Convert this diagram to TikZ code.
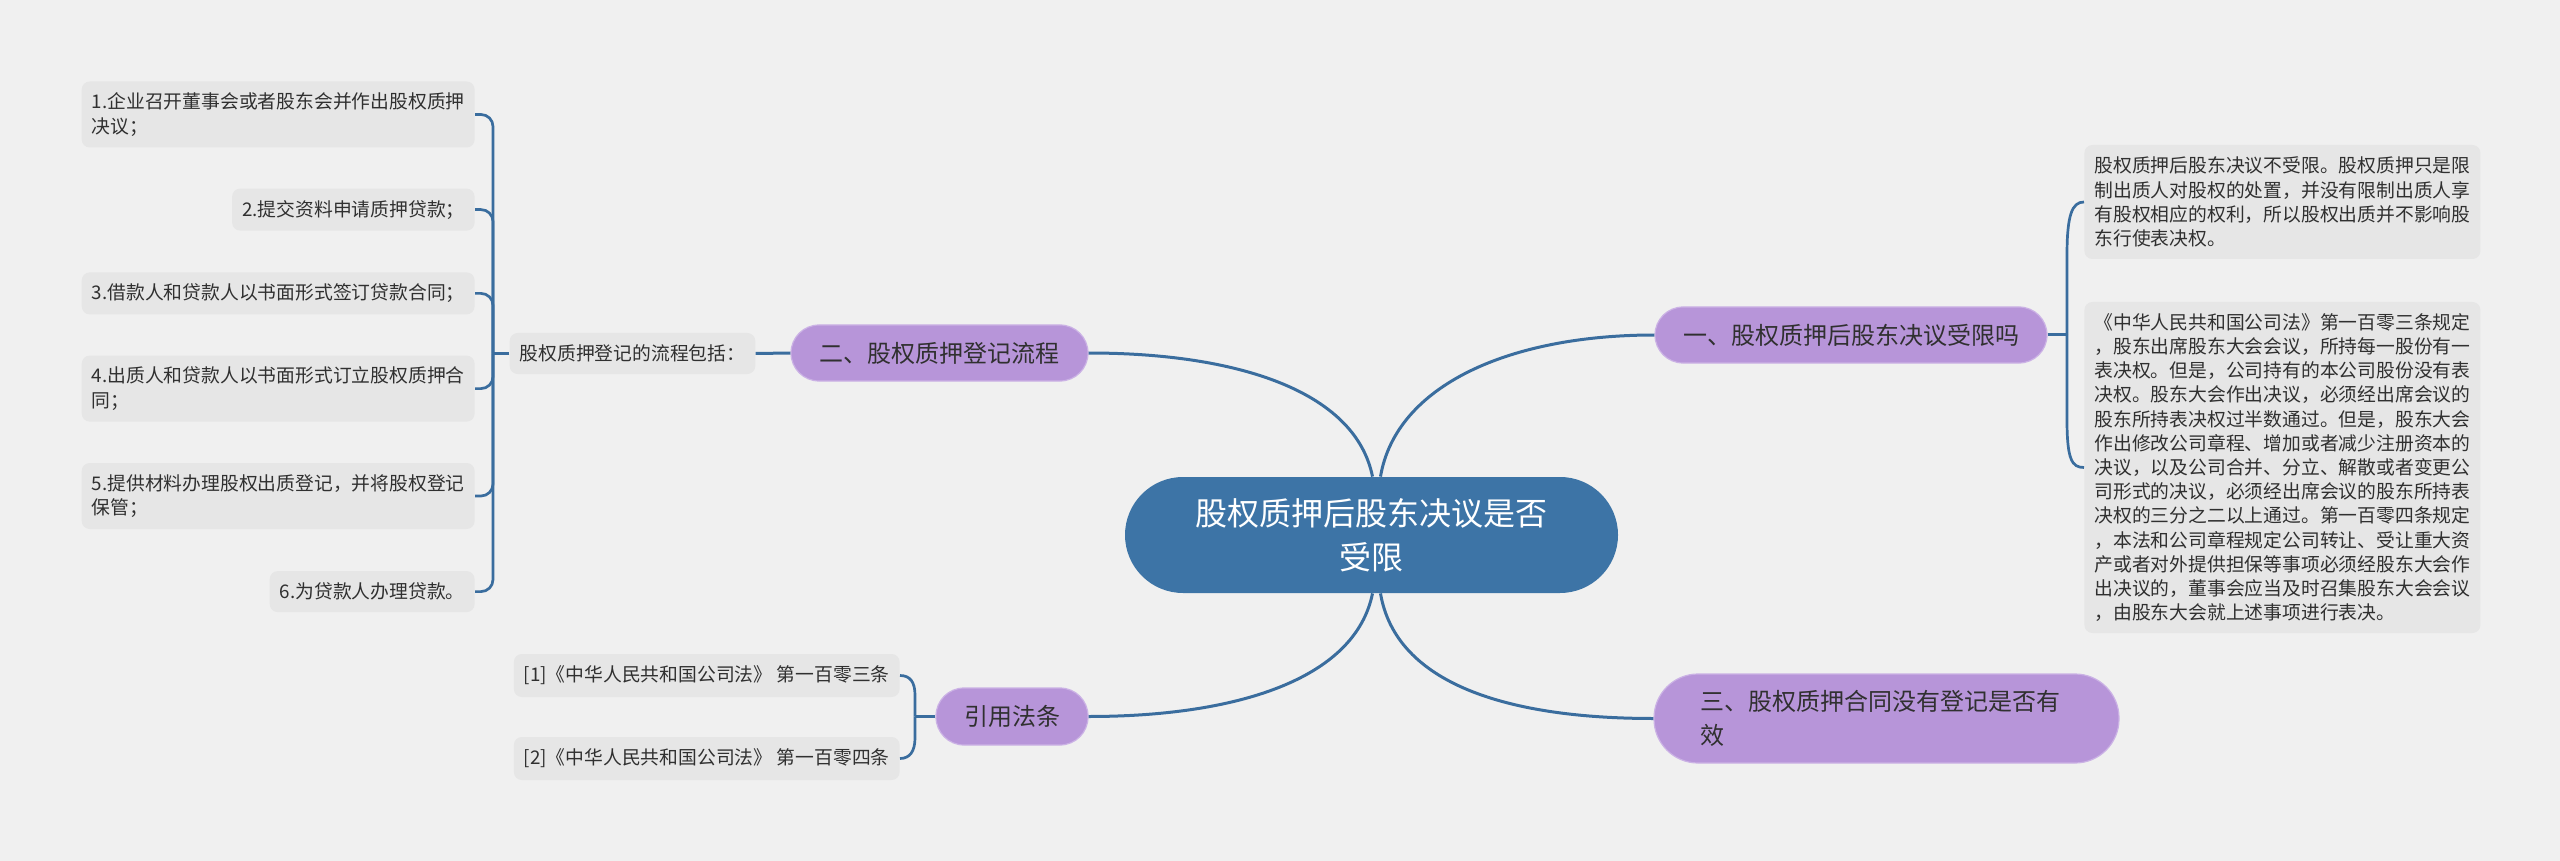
\documentclass[tikz,border=0pt]{standalone}
\usepackage{fontspec}
\setmainfont{Noto Sans CJK SC}
\definecolor{bgc}{HTML}{F0F0F0}
\definecolor{boxc}{HTML}{E6E6E6}
\definecolor{linec}{HTML}{3A6D9E}
\definecolor{centerc}{HTML}{3D74A6}
\definecolor{purplec}{HTML}{B795D9}
\definecolor{purpleb}{HTML}{CBB2E5}
\definecolor{txtc}{HTML}{303030}
\begin{document}
\begin{tikzpicture}[x=0.5pt,y=-0.5pt,
  conn/.style={draw=linec, line width=1.5pt},
  brk/.style={draw=linec, line width=1.35pt},
  root/.style={fill=centerc, text=white, rounded corners=29pt, minimum width=246.5pt, minimum height=58pt, align=center, inner sep=0pt, font=\fontsize{16pt}{22pt}\selectfont},
  topic/.style={fill=purplec, draw=purpleb, line width=0.6pt, text=txtc, rounded corners=14pt, minimum height=28pt, inner sep=0pt, font=\fontsize{12pt}{17pt}\selectfont},
  leaf/.style={fill=boxc, text=txtc, rounded corners=4pt, inner xsep=5pt, inner ysep=0pt, align=left, font=\fontsize{9.4pt}{12.1pt}\selectfont},
]
\fill[bgc] (0,0) rectangle (2560,861);
\useasboundingbox (0,0) rectangle (2560,861);

% central and topic nodes
\node[root] (C) at (1371.5,535) {股权质押后股东决议是否\\受限};
\node[topic, minimum width=196pt] (P1) at (1851,335) {一、股权质押后股东决议受限吗};
\node[topic, minimum width=148.5pt] (P2) at (939.5,353) {二、股权质押登记流程};
\node[topic, minimum width=232.5pt, minimum height=44.5pt, rounded corners=22pt, text width=186pt, align=left] (P3) at (1886.5,718.5) {三、股权质押合同没有登记是否有\\效};
\node[topic, minimum width=76pt, minimum height=28.5pt] (P4) at (1012,716.5) {引用法条};

% left leaves
\node[leaf, anchor=east, minimum height=33pt] (L1) at (475,114.5) {1.企业召开董事会或者股东会并作出股权质押\\决议；};
\node[leaf, anchor=east, minimum height=21pt] (L2) at (475,209.6) {2.提交资料申请质押贷款；};
\node[leaf, anchor=east, minimum height=21pt] (L3) at (475,293.4) {3.借款人和贷款人以书面形式签订贷款合同；};
\node[leaf, anchor=east, minimum height=33pt] (L4) at (475,388.6) {4.出质人和贷款人以书面形式订立股权质押合\\同；};
\node[leaf, anchor=east, minimum height=33pt] (L5) at (475,496) {5.提供材料办理股权出质登记，并将股权登记\\保管；};
\node[leaf, anchor=east, minimum height=20.5pt] (L6) at (475,591.6) {6.为贷款人办理贷款。};
\node[leaf, minimum height=20.5pt] (Q) at (632.5,353.5) {股权质押登记的流程包括：};

% references
\node[leaf, anchor=east, minimum height=21.5pt] (R1) at (900,675.5) {[1]《中华人民共和国公司法》 第一百零三条};
\node[leaf, anchor=east, minimum height=21.5pt] (R2) at (900,758.5) {[2]《中华人民共和国公司法》 第一百零四条};

% right leaves
\node[leaf, anchor=west, minimum height=57pt] (RB1) at (2084,202) {股权质押后股东决议不受限。股权质押只是限\\制出质人对股权的处置，并没有限制出质人享\\有股权相应的权利，所以股权出质并不影响股\\东行使表决权。};
\node[leaf, anchor=west, minimum height=165.5pt] (RB2) at (2084,467.5) {《中华人民共和国公司法》第一百零三条规定\\，股东出席股东大会会议，所持每一股份有一\\表决权。但是，公司持有的本公司股份没有表\\决权。股东大会作出决议，必须经出席会议的\\股东所持表决权过半数通过。但是，股东大会\\作出修改公司章程、增加或者减少注册资本的\\决议，以及公司合并、分立、解散或者变更公\\司形式的决议，必须经出席会议的股东所持表\\决权的三分之二以上通过。第一百零四条规定\\，本法和公司章程规定公司转让、受让重大资\\产或者对外提供担保等事项必须经股东大会作\\出决议的，董事会应当及时召集股东大会会议\\，由股东大会就上述事项进行表决。};

% main curves
\coordinate (ctl) at ([xshift=0.5pt]C.north);
\coordinate (ctr) at ([xshift=4.5pt]C.north);
\coordinate (cbl) at ([xshift=0.5pt]C.south);
\coordinate (cbr) at ([xshift=4.5pt]C.south);
\draw[conn] (ctl) .. controls (1355,390) and (1235,353) .. (P2.east);
\draw[conn] (ctr) .. controls (1396,385) and (1510,335) .. (P1.west);
\draw[conn] (cbl) .. controls (1355,680) and (1235,716.5) .. (P4.east);
\draw[conn] (cbr) .. controls (1396,685) and (1510,718.5) .. (P3.west);

% left bracket
\coordinate (lb) at (493,353.5);
\draw[conn] (P2.west) -- (Q.east);
\draw[brk] (Q.west) -- (lb);
\foreach \n in {L1,L2,L3,L4,L5,L6} \draw[brk, rounded corners=6pt] (lb) |- (\n.east);

% right bracket
\coordinate (rb) at (2067,335);
\draw[conn] (P1.east) -- (rb);
\draw[brk] (rb) -- (2067,255) .. controls (2067,215) and (2072,202) .. (RB1.west);
\draw[brk] (rb) -- (2067,420) .. controls (2067,460) and (2072,467.5) .. (RB2.west);

% reference bracket
\coordinate (fb) at (915,716.5);
\draw[conn] (P4.west) -- (fb);
\draw[brk] (fb) -- (915,695) .. controls (915,682) and (910,675.5) .. (R1.east);
\draw[brk] (fb) -- (915,738) .. controls (915,751) and (910,758.5) .. (R2.east);
\end{tikzpicture}
\end{document}
